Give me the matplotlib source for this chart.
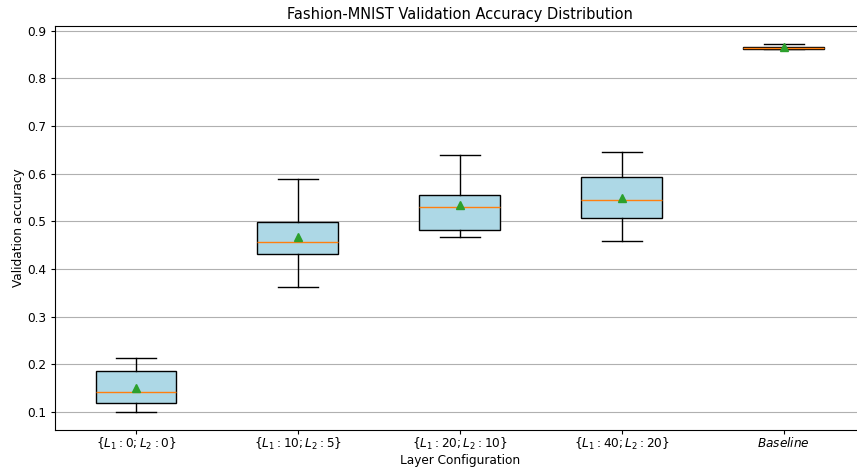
import matplotlib
matplotlib.use("Agg")
import matplotlib.pyplot as plt

# --- Data ---
labels = [r'$\{L_1: 0; L_2: 0\}$', r'$\{L_1: 10; L_2: 5\}$',
          r'$\{L_1: 20; L_2: 10\}$', r'$\{L_1: 40; L_2: 20\}$',
          r'$Baseline$']
whisker_low = [0.101, 0.363, 0.467, 0.459, 0.861]
q1 = [0.120, 0.432, 0.482, 0.507, 0.862]
median = [0.142, 0.456, 0.531, 0.544, 0.864]
q3 = [0.186, 0.499, 0.556, 0.593, 0.866]
whisker_high = [0.214, 0.589, 0.640, 0.646, 0.871]
mean = [0.151, 0.468, 0.534, 0.548, 0.866]

# the reference was rendered at a smaller scale than 100 dpi defaults
plt.rcParams['font.size'] = 8.75
plt.rcParams['axes.titlesize'] = 10.5
plt.rcParams['xtick.major.size'] = 3
plt.rcParams['ytick.major.size'] = 3
plt.rcParams['xtick.major.pad'] = 1.5
plt.rcParams['ytick.major.pad'] = 3
plt.rcParams['axes.labelpad'] = 1.5
plt.rcParams['axes.titlepad'] = 5

# --- Plot ---
fig = plt.figure(figsize=(8.57, 4.67), dpi=100)
ax = fig.add_axes([0.0642, 0.0792, 0.945, 0.865])

stats = []
for i, lab in enumerate(labels):
    stats.append({
        'label': lab,
        'whislo': whisker_low[i],
        'q1': q1[i],
        'med': median[i],
        'q3': q3[i],
        'whishi': whisker_high[i],
        'mean': mean[i],
        'fliers': [],
    })

ax.bxp(stats, showmeans=True, patch_artist=True,
       boxprops=dict(facecolor='lightblue', edgecolor='black'))

ax.yaxis.grid(True)
ax.set_axisbelow(True)
ax.set_title('Fashion-MNIST Validation Accuracy Distribution')
ax.set_xlabel('Layer Configuration')
ax.set_ylabel('Validation accuracy')

fig.savefig('out.png', dpi=100)
